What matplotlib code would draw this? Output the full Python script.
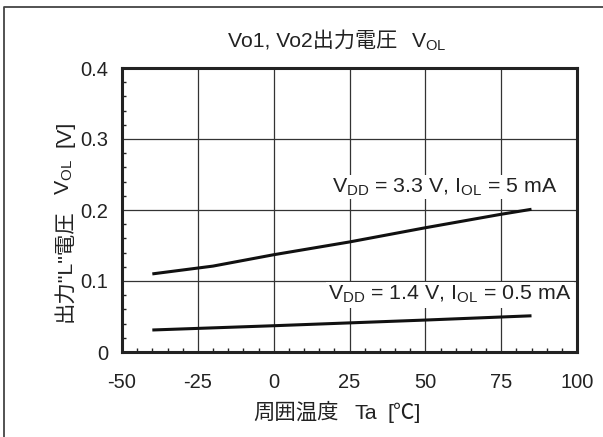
import matplotlib
matplotlib.use("Agg")
import matplotlib.pyplot as plt
from matplotlib.ticker import MultipleLocator
from matplotlib.transforms import IdentityTransform
from matplotlib.lines import Line2D

plt.rcParams['font.family'] = ['Liberation Sans', 'Noto Sans CJK JP', 'DejaVu Sans']
plt.rcParams['mathtext.fontset'] = 'custom'
plt.rcParams['mathtext.rm'] = 'Liberation Sans'
plt.rcParams['mathtext.it'] = 'Liberation Sans:italic'
plt.rcParams['mathtext.bf'] = 'Liberation Sans:bold'

# ---- data ----
temp_33 = [-40, -20, 0, 25, 50, 75, 85]
vol_33 = [0.110, 0.121, 0.137, 0.155, 0.175, 0.194, 0.201]

temp_14 = [-40, 0, 25, 50, 85]
vol_14 = [0.031, 0.037, 0.041, 0.045, 0.051]

x_ticks = [-50, -25, 0, 25, 50, 75, 100]
x_ticklabels = ["-50", "-25", "0", "25", "50", "75", "100"]
y_ticks = [0, 0.1, 0.2, 0.3, 0.4]
y_ticklabels = ["0", "0.1", "0.2", "0.3", "0.4"]

label_33 = r"V$_{\mathrm{DD}}$ = 3.3 V, I$_{\mathrm{OL}}$ = 5 mA"
label_14 = r"V$_{\mathrm{DD}}$ = 1.4 V, I$_{\mathrm{OL}}$ = 0.5 mA"

W, H = 603, 437
FS_TICK = 14.5
FS_TEXT = 15.4
INK = '#222222'

fig = plt.figure(figsize=(W / 100, H / 100), dpi=100)
ax = fig.add_axes([122 / W, (H - 352) / H, 455 / W, 284 / H])

ax.plot(temp_33, vol_33, color='#111111', lw=2.2, solid_capstyle='butt', zorder=3)
ax.plot(temp_14, vol_14, color='#111111', lw=2.2, solid_capstyle='butt', zorder=3)

ax.set_xlim(-50, 100)
ax.set_ylim(0, 0.4)
ax.set_xticks(x_ticks)
ax.set_xticklabels(x_ticklabels)
ax.set_yticks(y_ticks)
ax.set_yticklabels(y_ticklabels)
ax.xaxis.set_minor_locator(MultipleLocator(5))
ax.yaxis.set_minor_locator(MultipleLocator(0.02))
ax.tick_params(which='major', length=0, labelsize=FS_TICK, colors=INK)
ax.tick_params(axis='x', which='major', pad=15)
ax.tick_params(axis='y', which='major', pad=10)
ax.tick_params(which='minor', direction='in', length=3, width=1, color=INK)
ax.grid(True, which='major', color='#333333', lw=0.9)
ax.set_axisbelow(True)
for s in ax.spines.values():
    s.set_linewidth(2.2)
    s.set_color(INK)

ax.text(19.2, 0.225, label_33, fontsize=FS_TEXT, color=INK, va='baseline', ha='left',
        bbox=dict(facecolor='white', edgecolor='none', pad=1.0), zorder=4)
ax.text(17.9, 0.073, label_14, fontsize=FS_TEXT, color=INK, va='baseline', ha='left',
        bbox=dict(facecolor='white', edgecolor='none', pad=1.5), zorder=4)

renderer = fig.canvas.get_renderer()


def put_runs(x, y, runs, rotation=0, size=FS_TEXT):
    """Draw consecutive text pieces in pixel coordinates, one after another."""
    for s, gap in runs:
        t = fig.text(x, y, s, transform=IdentityTransform(), rotation=rotation,
                     rotation_mode='anchor', ha='left', va='baseline',
                     fontsize=size, color=INK)
        bb = t.get_window_extent(renderer)
        if rotation == 0:
            x = bb.x1 + gap
        else:
            y = bb.y1 + gap


# title
put_runs(228, H - 48, [("Vo1, Vo2出力電圧", 14), (r"V$_{\mathrm{OL}}$", 0)], size=15.2)
# y label
put_runs(70, H - 322, [("出力\"L\"電圧", 14), (r"V$_{\mathrm{OL}}$", 12), ("[V]", 0)],
         rotation=90, size=15.4)
# x label
put_runs(253, H - 419, [("周囲温度", 16), ("Ta", 10), ("[℃]", 0)], size=15.4)

# outer frame
fig.add_artist(Line2D([4, 4, W + 5], [-5, H - 7, H - 7], transform=IdentityTransform(),
                      color='#444444', lw=1.3))

fig.savefig("out.png", dpi=100)
